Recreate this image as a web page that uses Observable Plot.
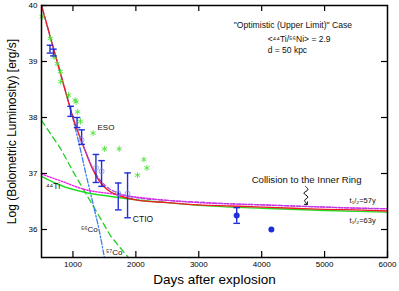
<!DOCTYPE html>
<html><head><meta charset="utf-8">
<script src="https://cdn.jsdelivr.net/npm/d3@7"></script>
<script src="https://cdn.jsdelivr.net/npm/@observablehq/plot@0.6"></script>
<style>body{margin:0;background:#fff;} svg{font-family:"Liberation Sans",Arial,sans-serif;}</style>
</head><body><div id="chart"></div>
<script>
// ---- data ----
const xTicks = [1000, 2000, 3000, 4000, 5000, 6000];
const xTopTicks = [1000, 2000, 3000, 4000, 5000];
const yTicks = [36, 37, 38, 39, 40];
const yRightTicks = [36, 37, 38, 39];

// total (t1/2 = 63 y), red
const redDays = [500,600,700,800,900,1000,1100,1200,1300,1400,1500,1600,1700,1800,2000,2500,3000,3500,4000,4500,5000,5500,6000];
const redLog  = [40.0,39.6,39.19,38.79,38.39,38.0,37.68,37.39,37.11,36.9,36.76,36.67,36.62,36.58,36.53,36.48,36.44,36.42,36.40,36.38,36.36,36.35,36.33];
// total (t1/2 = 57 y), magenta dashed
const totDays57 = [1100,1200,1300,1400,1500,1600,1700,1800,2000,2500,3000,3500,4000,4500,5000,5500,6000];
const totLog57  = [37.69,37.4,37.13,36.93,36.8,36.71,36.66,36.62,36.57,36.52,36.49,36.46,36.44,36.42,36.40,36.38,36.37];
// 44Ti (63 y), green solid
const tiDays63 = [500,800,1200,1600,2000,2500,3000,4000,5000,6000];
const tiLog63  = [36.95,36.79,36.66,36.59,36.53,36.48,36.43,36.38,36.34,36.31];
// 44Ti (57 y), magenta dotted
const tiDays57 = [500,800,1200,1600,2000,2500,3000,4000,5000,6000];
const tiLog57  = [36.99,36.87,36.71,36.64,36.58,36.52,36.48,36.44,36.40,36.37];
// 57Co, green dashed
const co57Days = [500,800,1000,1200,1400,1600,1880];
const co57Log  = [37.95,37.45,37.04,36.65,36.27,35.88,35.5];
// 56Co, blue dash-dot
const co56Days = [500,700,900,1000,1100,1200,1300,1400,1450,1500];
const co56Log  = [40.0,39.2,38.4,37.98,37.52,37.02,36.55,36.08,35.8,35.5];

// green asterisks
const astDays = [510,640,700,750,800,805,930,1035,1050,1075,1120,1320,1500,1735,2027,2128,2175];
const astLog  = [39.8,39.41,39.08,38.96,38.82,38.64,38.40,38.31,38.28,38.10,37.93,37.72,37.44,37.44,36.97,37.25,37.1];

// blue error bars
const ebDays = [635,690,963,1065,1138,1365,1455,1720,1868,3603];
const ebLog  = [39.22,39.16,38.11,37.91,37.65,37.09,37.0,36.59,36.61,36.25];
const ebErr  = [0.07,0.06,0.09,0.09,0.13,0.25,0.23,0.24,0.4,0.14];
// light-blue open circles
const ocDays = [1138,1365,1455,1720,1868];
const ocLog  = [37.6,37.1,37.04,36.65,36.64];
// filled blue dots
const fdDays = [3603,4154];
const fdLog  = [36.25,36.0];

// annotations (left-anchored)
const annoText = ['"Optimistic (Upper Limit)" Case','<⁴⁴Ti/⁵⁶Ni> = 2.9','d = 50 kpc','CTIO','⁴⁴Ti','⁵⁶Co','⁵⁷Co','t₁/₂=57y','t₁/₂=63y'];
const annoDays = [3556,4095,4095,1952,571,1127,1524,5397,5397];
const annoLog  = [39.65,39.40,39.2,36.19,36.77,36.0,35.59,36.51,36.16];
const annoSize = [8.6,8.5,8.5,8.5,8.5,8,8,7.5,7.5];
// annotations (centred)
const midText = ['ESO','Collision to the Inner Ring'];
const midDays = [1524,4714];
const midLog  = [37.83,36.89];
const midSize = [8,9.6];

// squiggle arrow
const sqDays = [4698,4735,4671,4735,4683,4714];
const sqLog  = [36.77,36.71,36.65,36.58,36.52,36.46];

const rows = (xs, ys) => xs.map((d, i) => ({d, v: ys[i]}));
const ebRows = ebDays.map((d, i) => ({d, v: ebLog[i], lo: ebLog[i] - ebErr[i], hi: ebLog[i] + ebErr[i]}));
const annoRows = annoText.map((t, i) => ({t, d: annoDays[i], v: annoLog[i], s: annoSize[i]}));
const midRows = midText.map((t, i) => ({t, d: midDays[i], v: midLog[i], s: midSize[i]}));
const capSymbol = {draw(ctx, size) { const h = Math.sqrt(size / Math.PI); ctx.moveTo(-h, 0); ctx.lineTo(h, 0); }};

const blue = "#1f2fd8";
const marks = [
  Plot.line(rows(co57Days, co57Log), {x: "d", y: "v", stroke: "#22cc22", strokeWidth: 1.3, strokeDasharray: "6,4"}),
  Plot.line(rows(co56Days, co56Log), {x: "d", y: "v", stroke: "#3a7ff0", strokeWidth: 1.3, strokeDasharray: "5,2,1.5,2"}),
  Plot.line(rows(tiDays63, tiLog63), {x: "d", y: "v", stroke: "#22dd22", strokeWidth: 1.4, curve: "monotone-x"}),
  Plot.line(rows(tiDays57, tiLog57), {x: "d", y: "v", stroke: "#ee22ee", strokeWidth: 1.4, strokeDasharray: "1.5,1.5", curve: "monotone-x"}),
  Plot.line(rows(redDays, redLog), {x: "d", y: "v", stroke: "#ee1c24", strokeWidth: 1.4, curve: "monotone-x"}),
  Plot.line(rows(totDays57, totLog57), {x: "d", y: "v", stroke: "#b040e0", strokeWidth: 1.2, strokeDasharray: "4,2", curve: "monotone-x"}),
  Plot.dot(rows(astDays, astLog), {x: "d", y: "v", symbol: "asterisk", r: 2.8, stroke: "#4fe03c", strokeWidth: 0.9}),
  Plot.ruleX(ebRows, {x: "d", y1: "lo", y2: "hi", stroke: blue, strokeWidth: 1.4}),
  Plot.dot(ebRows, {x: "d", y: "lo", symbol: capSymbol, r: 3.3, stroke: blue, strokeWidth: 1.4}),
  Plot.dot(ebRows, {x: "d", y: "hi", symbol: capSymbol, r: 3.3, stroke: blue, strokeWidth: 1.4}),
  Plot.dot(rows(ocDays, ocLog), {x: "d", y: "v", r: 2.5, stroke: "#8090ee", strokeWidth: 0.8, fill: "none"}),
  Plot.dot(rows(fdDays, fdLog), {x: "d", y: "v", r: 3, fill: blue, stroke: "none"}),
  Plot.line(rows(sqDays, sqLog), {x: "d", y: "v", stroke: "black", strokeWidth: 1, curve: "catmull-rom", markerEnd: "arrow"}),
  Plot.text(annoRows, {x: "d", y: "v", text: "t", textAnchor: "start", fontSize: "s", fill: "#111"}),
  Plot.text(midRows, {x: "d", y: "v", text: "t", textAnchor: "middle", fontSize: "s", fill: "#111"}),
  // axes
  Plot.axisX(xTicks, {tickSize: 0, tickPadding: 4, label: null, fontSize: 8, tickFormat: (d) => String(d)}),
  Plot.axisY(yTicks, {tickSize: 0, tickPadding: 4, label: null, fontSize: 8, tickFormat: (d) => String(d)}),
  Plot.tickX(xTicks, {x: (d) => d, insetTop: 246, stroke: "black", strokeWidth: 1.2}),
  Plot.tickX(xTopTicks, {x: (d) => d, insetBottom: 246, stroke: "black", strokeWidth: 1.2}),
  Plot.tickY(yTicks, {y: (d) => d, insetRight: 340, stroke: "black", strokeWidth: 1.2}),
  Plot.tickY(yRightTicks, {y: (d) => d, insetLeft: 340, stroke: "black", strokeWidth: 1.2}),
  Plot.frame({stroke: "black", strokeWidth: 1.5}),
  Plot.text(["Days after explosion"], {frameAnchor: "bottom", dy: 26, text: (d) => d, fontSize: 13.5, fill: "black"}),
  Plot.text(["Log (Bolometric Luminosity) [erg/s]"], {frameAnchor: "left", dx: -29, rotate: -90, textAnchor: "middle", text: (d) => d, fontSize: 12, fill: "black"})
];

const chart = Plot.plot({
  width: 399, height: 291,
  marginLeft: 41, marginRight: 12, marginTop: 5, marginBottom: 34,
  x: {domain: [500, 6000]},
  y: {domain: [35.5, 40]},
  style: {fontFamily: '"Liberation Sans", Arial, sans-serif', background: "white", color: "black"},
  marks
});
document.getElementById("chart").appendChild(chart);
</script>
</body></html>
